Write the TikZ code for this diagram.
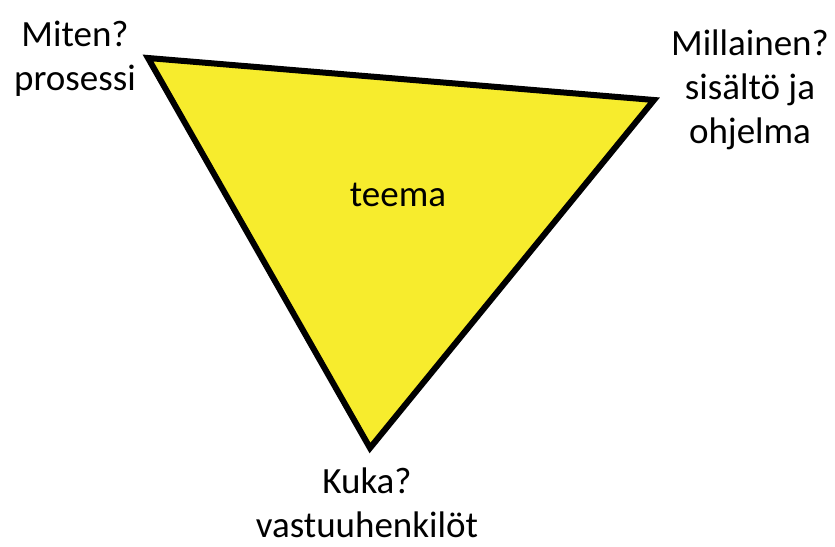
\documentclass[tikz,border=0pt]{standalone}
\usepackage{fontspec}
\setmainfont{Carlito}
\usepackage{xcolor}
\usepackage{tikz}
\usetikzlibrary{positioning}
\definecolor{markeryellow}{RGB}{247,236,45}

\begin{document}
\begin{tikzpicture}[
  x=1pt,y=-1pt,
  corner/.style={align=center,inner sep=0pt,font=\fontsize{37}{44}\selectfont},
  tri/.style={draw=black,line width=6pt,fill=markeryellow,line join=miter}
]
  \useasboundingbox (0,0) rectangle (835,546);
  \coordinate (how) at (148,58);
  \coordinate (what) at (654,100);
  \coordinate (who) at (370,448);
  \filldraw[tri] (how) -- (what) -- (who) -- cycle;

  % base anchor sits on the last line
  \node[corner,anchor=base] (howtxt) at (75,90) {Miten?\\prosessi};
  \node[corner,anchor=base] (whattxt) at (750,143) {Millainen?\\sisältö ja\\ohjelma};
  \node[corner,anchor=base] (whotxt) at (367,537) {Kuka?\\vastuuhenkilöt};
  \node[corner,anchor=base] (theme) at (398,206) {teema};
\end{tikzpicture}
\end{document}
